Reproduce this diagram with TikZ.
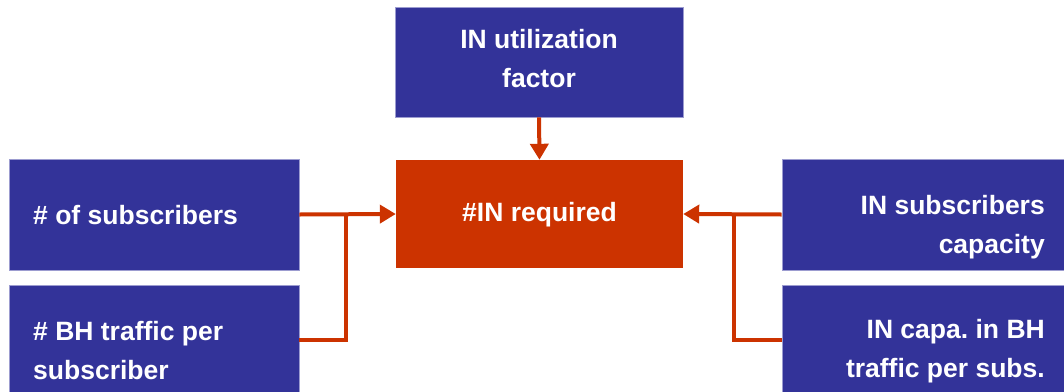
\documentclass[tikz,border=0pt]{standalone}
\usepackage{fontspec}
\setmainfont{Liberation Sans}
\usetikzlibrary{arrows.meta}
\definecolor{boxblue}{HTML}{333399}
\definecolor{boxedge}{HTML}{9C9CD0}
\definecolor{boxred}{HTML}{CC3300}
\frenchspacing
\tikzset{
  bluebox/.style={rectangle, fill=boxblue, draw=boxedge, line width=0.8pt, inner sep=0pt},
  redbox/.style={rectangle, fill=boxred, draw=none, inner sep=0pt},
  txt/.style={text=white, font=\fontsize{26.5}{39}\selectfont\bfseries, inner sep=0pt},
  conn/.style={draw=boxred, line width=4pt, -{Triangle[length=16pt,width=18pt]}},
  link/.style={draw=boxred, line width=4pt}
}
\begin{document}
\begin{tikzpicture}[x=1pt,y=-1pt]
\clip (0,0) rectangle (1064,391);
\fill[white] (0,0) rectangle (1064,391);
% boxes
\node[bluebox, minimum width=288pt, minimum height=110pt] (top) at (539,62) {};
\node[redbox, minimum width=287pt, minimum height=108pt] (c) at (539.5,214) {};
\node[bluebox, minimum width=290pt, minimum height=111pt] (lt) at (154,214.5) {};
\node[bluebox, minimum width=290pt, minimum height=110pt] (lb) at (154,340) {};
\node[bluebox, minimum width=290pt, minimum height=111pt] (rt) at (927,214.5) {};
\node[bluebox, minimum width=290pt, minimum height=110pt] (rb) at (927,340) {};
% texts
\node[txt, align=center] (ttop) at (539,59) {IN utilization\\factor};
\node[txt] (tc) at (539.5,215) {\#IN required};
\node[txt, anchor=west] (tlt) at (33,215) {\# of subscribers};
\node[txt, align=left, anchor=west] (tlb) at (33,351) {\# BH traffic per\\subscriber};
\node[txt, align=right, anchor=east] (trt) at (1045,227) {IN subscribers\\capacity};
\node[txt, align=right, anchor=east] (trb) at (1045,351) {IN capa. in BH\\traffic per subs.};
% junctions
\coordinate (jl) at (346,214);
\coordinate (jr) at (734,214);
% connectors
\draw[conn] (top.south) -- (c.north);
\draw[conn] (lt.east) -- (c.west);
\draw[link] (lb.east) -| (jl);
\draw[conn] (rt.west) -- (c.east);
\draw[link] (rb.west) -| (jr);
\end{tikzpicture}
\end{document}
